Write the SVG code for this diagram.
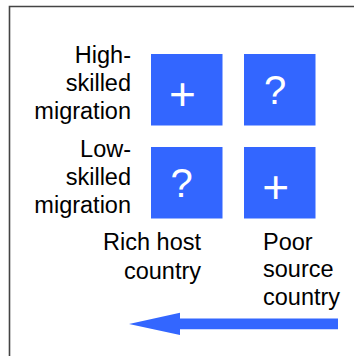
<svg xmlns="http://www.w3.org/2000/svg" width="354" height="356" viewBox="0 0 354 356">
<style>
.lbl{font-family:"Liberation Sans",Arial,Helvetica,sans-serif;font-size:23.5px;fill:#000}
.r{text-anchor:end}
.box{fill:#3366ff}
.sym{font-family:"Liberation Sans",Arial,Helvetica,sans-serif;fill:#fff;text-anchor:middle}
</style>
<rect width="354" height="356" fill="#fff"/>
<path d="M9.5,356 V6.5 H354" fill="none" stroke="#444" stroke-width="1.6"/>
<g id="label-high" class="lbl r">
<text x="131" y="63">High-</text>
<text x="131" y="91">skilled</text>
<text x="131" y="119">migration</text>
</g>
<g id="label-low" class="lbl r">
<text x="131" y="156.5">Low-</text>
<text x="131" y="184.5">skilled</text>
<text x="131" y="212.5">migration</text>
</g>
<g id="label-rich" class="lbl r">
<text x="201" y="249.5">Rich host</text>
<text x="201" y="278.5">country</text>
</g>
<g id="label-poor" class="lbl">
<text x="263" y="250">Poor</text>
<text x="263" y="277">source</text>
<text x="263" y="305">country</text>
</g>
<g id="box-high-rich">
<rect class="box" x="151" y="54" width="71.5" height="71.5"/>
<text class="sym" x="182.5" y="109.5" font-size="46">+</text>
</g>
<g id="box-high-poor">
<rect class="box" x="244" y="54" width="71.5" height="71.5"/>
<text class="sym" x="275" y="104.3" font-size="40">?</text>
</g>
<g id="box-low-rich">
<rect class="box" x="151" y="147" width="71.5" height="71.5"/>
<text class="sym" x="181.7" y="197.3" font-size="40">?</text>
</g>
<g id="box-low-poor">
<rect class="box" x="244" y="147" width="71.5" height="71.5"/>
<text class="sym" x="275.7" y="203" font-size="46">+</text>
</g>
<g id="connectors">
<polygon points="129,324 180,312.7 180,318.5 338,318.5 338,329.3 180,329.3 180,335" fill="#3366ff"/>
</g>
</svg>
